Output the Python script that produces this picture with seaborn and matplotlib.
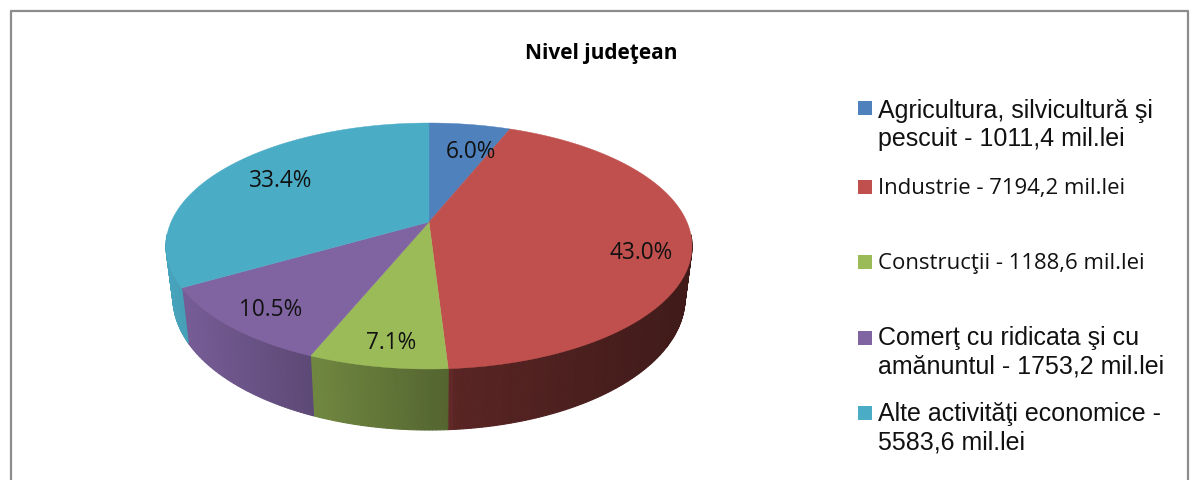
import numpy as np
import pandas as pd
import matplotlib
matplotlib.use("Agg")
import matplotlib.pyplot as plt
import seaborn as sns
from matplotlib.patches import Rectangle

# -----------------------------
# Data
# -----------------------------
sectors = [
    "Agricultura, silvicultură şi\npescuit",
    "Industrie",
    "Construcţii",
    "Comerţ cu ridicata şi cu\namănuntul",
    "Alte activităţi economice -\n",
]
values = [1011.4, 7194.2, 1188.6, 1753.2, 5583.6]
colors = ["#4F81BD", "#C0504D", "#9BBB59", "#8064A2", "#4BACC6"]
title = "Nivel judeţean"

df = pd.DataFrame({"sector": sectors, "value": values})
df["share"] = df["value"] / df["value"].sum()

# -----------------------------
# Layout, in image pixels
# -----------------------------
cx, cy, rx, ry = 429, 247, 263, 123
bottom_cy, bottom_rx, bottom_ry = 299, 256, 132
persp = 0.195
pct_pos = [(471, 152), (641, 253), (391, 343), (271, 310), (281, 181)]
legend_y = [109, 188, 263, 339, 414]
text_y = [125, 189, 264, 352, 428]
legend_font = ["Liberation Sans", "Open Sans", "Open Sans", "Liberation Sans", "Liberation Sans"]
legend_size = [18.0, 15.9, 15.9, 18.0, 18.0]


def project(t, r=1.0):
    """Circle angle (clockwise from top) to unit ellipse coordinates."""
    denom = 1 + persp * r * np.cos(t)
    xx = np.sqrt(1 - persp ** 2) * r * np.sin(t) / denom
    yy = (r * np.cos(t) + persp) / denom
    return xx, yy


sns.set_theme(style="white")
palette = sns.color_palette(colors)

fig = plt.figure(figsize=(11.9, 4.81), dpi=100)
ax = fig.add_axes([0, 0, 1, 1])
ax.set_xlim(0, 1190)
ax.set_ylim(481, 0)
ax.axis("off")

# chart frame, bottom edge is cropped
ax.plot([11, 11, 1188, 1188], [481, 12, 12, 481], color="#8c8c8c", lw=1.6)

edges = np.concatenate([[0], np.cumsum(df["share"].to_numpy())]) * 2 * np.pi

# -----------------------------
# Side wall, drawn first
# -----------------------------
for i, color in enumerate(palette):
    steps = np.arange(edges[i], edges[i + 1], np.radians(0.7))
    steps = np.append(steps, edges[i + 1])
    for t0, t1 in zip(steps[:-1], steps[1:]):
        x0, y0 = project(t0)
        x1, y1 = project(t1)
        if max(y0, y1) > 0.1:
            continue
        shade = np.interp(
            (x0 + x1) / 2,
            [-1, -0.44, 0.07, 0.1, 1],
            [0.95, 0.72, 0.54, 0.46, 0.33],
        )
        c = tuple(np.array(color) * shade)
        ax.fill(
            [cx + rx * x0, cx + rx * x1, cx + bottom_rx * x1, cx + bottom_rx * x0],
            [cy - ry * y0, cy - ry * y1, bottom_cy - bottom_ry * y1, bottom_cy - bottom_ry * y0],
            color=c,
            lw=0.8,
        )

# -----------------------------
# Top face
# -----------------------------
apex_x, apex_y = project(0.0, 0.0)
for i, color in enumerate(palette):
    arc = np.linspace(edges[i], edges[i + 1], 200)
    xs, ys = project(arc)
    ax.fill(
        np.r_[cx + rx * apex_x, cx + rx * xs],
        np.r_[cy - ry * apex_y, cy - ry * ys],
        color=color,
        lw=0.3,
    )

# -----------------------------
# Labels
# -----------------------------
for share, (px, py) in zip(df["share"], pct_pos):
    ax.text(px, py, f"{share * 100:.1f}%", ha="center", va="center",
            fontsize=16.3, family="Open Sans", color="#111111")

ax.text(601, 53, title, ha="center", va="center", fontsize=15,
        family="Open Sans", fontweight="bold", color="black")

# -----------------------------
# Legend
# -----------------------------
for i, row in df.iterrows():
    ax.add_patch(Rectangle((858, legend_y[i] - 7), 14, 14, color=palette[i], lw=0))
    val = f"{row['value']:.1f}".replace(".", ",")
    if row["sector"].endswith("\n"):
        label = f"{row['sector']}{val} mil.lei"
    else:
        label = f"{row['sector']} - {val} mil.lei"
    ax.text(878, text_y[i], label, ha="left", va="center", family=legend_font[i],
            fontsize=legend_size[i], color="#111111", linespacing=1.26)

fig.savefig("out.png", dpi=100, facecolor="white")
